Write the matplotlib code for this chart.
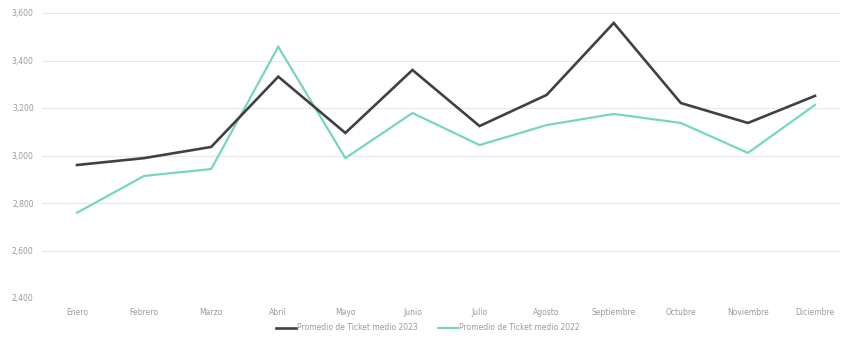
import matplotlib
matplotlib.use("Agg")
import matplotlib.pyplot as plt

months = ["Enero", "Febrero", "Marzo", "Abril", "Mayo", "Junio", "Julio",
          "Agosto", "Septiembre", "Octubre", "Noviembre", "Diciembre"]
ticket_2023 = [2960, 2989, 3036, 3332, 3095, 3360, 3124, 3255, 3558, 3221, 3137, 3251]
ticket_2022 = [2759, 2914, 2943, 3458, 2989, 3179, 3044, 3128, 3175, 3137, 3011, 3213]
yticks = [2400, 2600, 2800, 3000, 3200, 3400, 3600]
label_2023 = "Promedio de Ticket medio 2023"
label_2022 = "Promedio de Ticket medio 2022"

W, H = 843, 338
fig = plt.figure(figsize=(W / 100, H / 100), dpi=100)
left_px, right_px, top_px, bottom_px = 42, 840, 13, 298
ax = fig.add_axes([left_px / W, 1 - bottom_px / H,
                   (right_px - left_px) / W, (bottom_px - top_px) / H])

x = list(range(len(months)))
ax.plot(x, ticket_2023, color="#3f4240", lw=1.9, label=label_2023, zorder=3,
        solid_joinstyle="miter")
ax.plot(x, ticket_2022, color="#76d6c2", lw=1.6, label=label_2022, zorder=2,
        solid_joinstyle="miter")

x0, x11 = 77, 815
scale = (x11 - x0) / 11
ax.set_xlim(-(x0 - left_px) / scale, 11 + (right_px - x11) / scale)
ax.set_ylim(2400, 3600)
ax.set_yticks(yticks)
ax.set_yticklabels([f"{v:,}" for v in yticks])
ax.set_xticks(x)
ax.set_xticklabels(months)

ax.grid(axis="y", color="#e8e8e8", lw=0.8)
ax.set_axisbelow(True)
for s in ax.spines.values():
    s.set_visible(False)
ax.tick_params(axis="both", length=0, labelsize=5.5, colors="#9a9a9a")
ax.tick_params(axis="x", pad=7)
ax.tick_params(axis="y", pad=6)

leg = fig.legend(loc="center", bbox_to_anchor=(428 / W, 1 - 328 / H), ncol=2,
                 frameon=False, fontsize=5.5, handlelength=2.6, handletextpad=0.2,
                 columnspacing=2.6)
for t in leg.get_texts():
    t.set_color("#9a9a9a")

fig.savefig("out.png", dpi=100, facecolor="white")
